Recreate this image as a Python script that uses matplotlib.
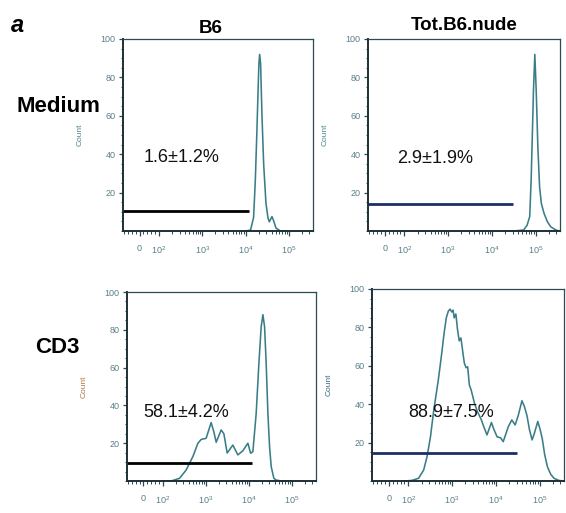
import numpy as np
import matplotlib
matplotlib.use('Agg')
import matplotlib.pyplot as plt
from matplotlib.ticker import MultipleLocator, FixedLocator

plt.rcParams['font.family'] = ['Liberation Sans', 'DejaVu Sans']
plt.rcParams['mathtext.default'] = 'regular'

# ---- data (x in log10 fluorescence, y in counts) ----
col_titles = ['B6', 'Tot.B6.nude']
row_titles = ['Medium', 'CD3']

b6_medium_log = [4.00, 4.116, 4.186, 4.226, 4.263, 4.286, 4.309, 4.326, 4.349, 4.379,
                 4.419, 4.472, 4.519, 4.551, 4.612, 4.658, 4.705, 4.807, 5.0]
b6_medium_cnt = [0, 0.5, 7, 26, 52, 70, 87, 92, 87, 61,
                 35, 14.6, 6.8, 4.8, 7.5, 4.8, 1.5, 0, 0]

nude_medium_log = [4.30, 4.495, 4.728, 4.807, 4.867, 4.90, 4.93, 4.953, 4.984, 5.016,
                   5.053, 5.093, 5.133, 5.193, 5.272, 5.349, 5.465, 5.55]
nude_medium_cnt = [0, 0, 0.5, 3, 7.5, 26.6, 52.6, 73, 92, 73,
                   44, 23, 14.4, 9.3, 4.8, 2.2, 0.5, 0]

b6_cd3_log = [2.0, 2.193, 2.388, 2.542, 2.698, 2.814, 2.891, 3.007, 3.123, 3.186,
              3.240, 3.356, 3.419, 3.495, 3.628, 3.744, 3.860, 3.977, 4.040, 4.093,
              4.170, 4.233, 4.286, 4.326, 4.365, 4.402, 4.442, 4.481, 4.519, 4.581,
              4.635, 4.751, 5.0]
b6_cd3_cnt = [0, 0, 1.4, 5.8, 12.9, 19.9, 22, 22.6, 30.9, 26,
              20.5, 27, 25, 14.8, 19, 13.8, 16, 20, 14.7, 15.5,
              35.8, 62.3, 81.6, 88, 81.6, 62.3, 35.8, 18, 7.6, 1.4,
              0.5, 0, 0]

nude_cd3_log = [1.9, 2.077, 2.233, 2.349, 2.426, 2.505, 2.581, 2.681, 2.760, 2.814,
                2.867, 2.914, 2.953, 2.993, 3.023, 3.047, 3.086, 3.123, 3.163, 3.202,
                3.240, 3.279, 3.319, 3.356, 3.395, 3.435, 3.512, 3.581, 3.667, 3.721,
                3.798, 3.900, 3.953, 4.030, 4.109, 4.170, 4.286, 4.365, 4.442, 4.512,
                4.598, 4.651, 4.714, 4.767, 4.830, 4.884, 4.960, 5.012, 5.063, 5.116,
                5.179, 5.256, 5.333, 5.442, 5.55]
nude_cd3_cnt = [0, 0.3, 1.4, 5.7, 12.6, 23, 37, 52, 66, 76.5,
                85, 88.5, 89.5, 88, 89, 85, 87, 79, 73, 74.5,
                68, 61.5, 59, 59.5, 50, 47.5, 40.5, 36, 32, 28.5,
                24, 30.5, 27, 23, 22.5, 20.5, 28.3, 31.8, 29.2, 34,
                41.8, 39, 34, 27, 21.4, 25, 31, 27, 22, 14,
                7.5, 3.5, 1.4, 0.3, 0]

curves_log = [b6_medium_log, nude_medium_log, b6_cd3_log, nude_cd3_log]
curves_cnt = [b6_medium_cnt, nude_medium_cnt, b6_cd3_cnt, nude_cd3_cnt]

gate_end_log = [4.09, 4.49, 4.07, 4.49]
gate_count = [10.4, 14.0, 9.4, 14.4]
percent_labels = ['1.6\u00b11.2%', '2.9\u00b11.9%', '58.1\u00b14.2%', '88.9\u00b17.5%']

xtick_values = [0, 1e2, 1e3, 1e4, 1e5]
xtick_labels = ['0', '$10^2$', '$10^3$', '$10^4$', '$10^5$']
ytick_values = [20, 40, 60, 80, 100]

# ---- layout ----
W, H = 566, 513
# axes boxes in pixels: left, top, right, bottom
boxes = [(123, 39, 313, 231), (368, 39, 560, 231),
         (127, 292, 316, 481), (372, 289, 564, 481)]
label_pos = [(2.53, 36), (2.71, 35.6), (2.54, 34), (2.97, 33.5)]
gate_colors = ['black', '#1c2f66', 'black', '#1c2f66']
count_colors = ['#4f8590', '#4f8590', '#b07a4a', '#3d6a80']
frame_color = '#2c4a55'
tick_color = '#5a7f88'
curve_color = '#3a7d88'

xmin, xmax = -85, 10 ** 5.56

fig = plt.figure(figsize=(W / 100, H / 100), dpi=100)

for i in range(4):
    l, t, r, b = boxes[i]
    ax = fig.add_axes([l / W, 1 - b / H, (r - l) / W, (b - t) / H])
    ax.set_xscale('symlog', linthresh=100, linscale=0.405)

    xs = 10 ** np.array(curves_log[i])
    ax.plot(xs, curves_cnt[i], color=curve_color, lw=1.15)
    ax.hlines(gate_count[i], xmin, 10 ** gate_end_log[i],
              color=gate_colors[i], lw=2.0)
    lx, ly = label_pos[i]
    ax.text(10 ** lx, ly, percent_labels[i], ha='center', va='baseline',
            fontsize=13, color='#111111')

    ax.set_xlim(xmin, xmax)
    ax.set_ylim(0, 100)
    ax.set_xticks(xtick_values)
    ax.set_xticklabels(xtick_labels)
    minor = [-80, -60, -40, -20, 20, 40, 60, 80]
    for dec in [100, 1000, 10000, 100000]:
        minor += [k * dec for k in range(2, 10) if k * dec < xmax]
    ax.xaxis.set_minor_locator(FixedLocator(minor))
    ax.set_yticks(ytick_values)
    ax.yaxis.set_minor_locator(MultipleLocator(5))

    ax.tick_params(axis='x', which='major', length=3.5, width=0.9, pad=6,
                   labelsize=6.5, colors=frame_color, labelcolor=tick_color)
    ax.tick_params(axis='x', which='minor', length=2, width=0.7, colors=frame_color)
    ax.tick_params(axis='y', which='major', length=3, width=0.9, pad=2.5,
                   labelsize=6.5, colors=frame_color, labelcolor=tick_color)
    ax.tick_params(axis='y', which='minor', length=1.8, width=0.7, colors=frame_color)
    for s in ax.spines.values():
        s.set_color(frame_color)
        s.set_linewidth(0.9)
    ax.spines['left'].set_linewidth(1.4)
    ax.spines['bottom'].set_linewidth(1.4)
    ax.spines['left'].set_color('#1e2f36')
    ax.spines['bottom'].set_color('#1e2f36')
    ax.set_ylabel('Count', fontsize=6, color=count_colors[i], labelpad=12)

# titles
fig.text(211 / W, 1 - 33 / H, col_titles[0], ha='center', va='baseline',
         fontsize=13.5, fontweight='bold')
fig.text(464 / W, 1 - 30 / H, col_titles[1], ha='center', va='baseline',
         fontsize=13.5, fontweight='bold')
fig.text(58 / W, 1 - 112 / H, row_titles[0], ha='center', va='baseline',
         fontsize=16, fontweight='bold')
fig.text(57.5 / W, 1 - 353 / H, row_titles[1], ha='center', va='baseline',
         fontsize=16, fontweight='bold')
fig.text(17.5 / W, 1 - 32 / H, 'a', ha='center', va='baseline',
         fontsize=17, fontweight='bold', style='italic')

fig.savefig('out.png', dpi=100)
